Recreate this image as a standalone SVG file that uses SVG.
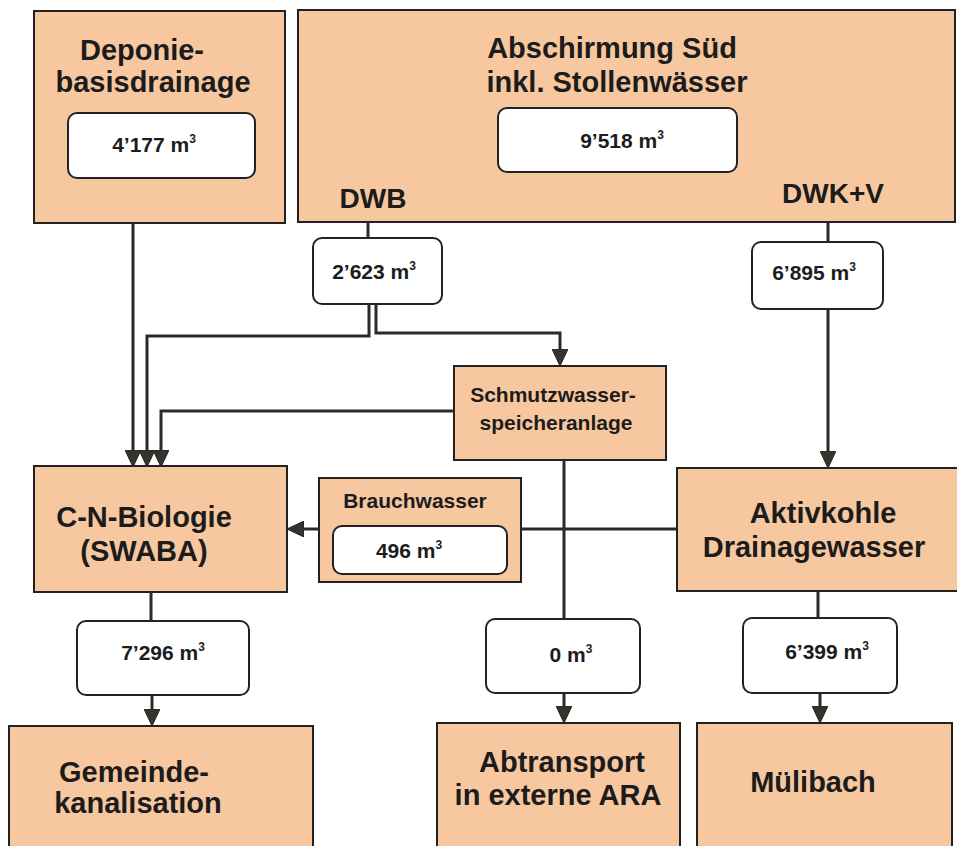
<svg xmlns="http://www.w3.org/2000/svg" width="957" height="846" viewBox="0 0 957 846">
<defs>
<style>
.box{fill:#F7C8A0;stroke:#222;stroke-width:2}
.val{fill:#fff;stroke:#222;stroke-width:2}
.t{font-family:"Liberation Sans",Arial,sans-serif;font-weight:bold;fill:#1c1c1c;text-anchor:middle}
.big{font-size:29px}
.mid{font-size:21px}
.lbl{font-size:28px}
.num{font-size:21px}
.sup{font-size:12px}
.c{fill:none;stroke:#2a2a2a;stroke-width:3}
.a{marker-end:url(#ah)}
</style>
<marker id="ah" viewBox="0 0 17 16" refX="0" refY="8" markerWidth="17" markerHeight="16" markerUnits="userSpaceOnUse" orient="auto">
<path d="M0,0 L17,8 L0,16 z" fill="#30362c" stroke="#222" stroke-width="1"/>
</marker>
</defs>
<rect width="957" height="846" fill="#fff"/>

<g id="deponie">
<rect class="box" x="34" y="11" width="251" height="212"/>
<text class="t big" x="142" y="60">Deponie-</text>
<text class="t big" x="153" y="92">basisdrainage</text>
<rect class="val" x="68" y="113" width="187" height="65" rx="9"/>
<text class="t num" x="154" y="152">4’177 m<tspan class="sup" dy="-9">3</tspan></text>
</g>

<g id="abschirmung">
<rect class="box" x="298" y="10" width="657" height="212"/>
<text class="t big" x="612" y="58">Abschirmung Süd</text>
<text class="t big" x="617" y="92">inkl. Stollenwässer</text>
<rect class="val" x="498" y="108" width="239" height="64" rx="9"/>
<text class="t num" x="622" y="148">9’518 m<tspan class="sup" dy="-9">3</tspan></text>
<text class="t lbl" x="373" y="208">DWB</text>
<text class="t lbl" x="833" y="203">DWK+V</text>
</g>

<g id="v2623">
<rect class="val" x="313" y="238" width="129" height="66" rx="9"/>
<text class="t num" x="374" y="279">2’623 m<tspan class="sup" dy="-9">3</tspan></text>
</g>

<g id="v6895">
<rect class="val" x="752" y="242" width="131" height="67" rx="9"/>
<text class="t num" x="814" y="280">6’895 m<tspan class="sup" dy="-9">3</tspan></text>
</g>

<g id="schmutzwasser">
<rect class="box" x="454" y="366" width="212" height="94"/>
<text class="t mid" x="553" y="402">Schmutzwasser-</text>
<text class="t mid" x="556" y="430">speicheranlage</text>
</g>

<g id="cnbiologie">
<rect class="box" x="34" y="466" width="253" height="126"/>
<text class="t big" x="144" y="527">C-N-Biologie</text>
<text class="t big" x="144" y="561">(SWABA)</text>
</g>

<g id="brauchwasser">
<rect class="box" x="319" y="478" width="202" height="104"/>
<text class="t mid" x="415" y="508">Brauchwasser</text>
<rect class="val" x="333" y="526" width="174" height="48" rx="9"/>
<text class="t num" x="409" y="558">496 m<tspan class="sup" dy="-9">3</tspan></text>
</g>

<g id="aktivkohle">
<rect class="box" x="677" y="468" width="290" height="123"/>
<text class="t big" x="823" y="523">Aktivkohle</text>
<text class="t big" x="814" y="557">Drainagewasser</text>
</g>

<g id="v7296">
<rect class="val" x="77" y="621" width="172" height="74" rx="9"/>
<text class="t num" x="163" y="660">7’296 m<tspan class="sup" dy="-9">3</tspan></text>
</g>

<g id="v0">
<rect class="val" x="486" y="619" width="154" height="74" rx="9"/>
<text class="t num" x="571" y="662">0 m<tspan class="sup" dy="-9">3</tspan></text>
</g>

<g id="v6399">
<rect class="val" x="743" y="618" width="154" height="75" rx="9"/>
<text class="t num" x="827" y="659">6’399 m<tspan class="sup" dy="-9">3</tspan></text>
</g>

<g id="gemeinde">
<rect class="box" x="9" y="726" width="304" height="140"/>
<text class="t big" x="134" y="782">Gemeinde-</text>
<text class="t big" x="138" y="813">kanalisation</text>
</g>

<g id="abtransport">
<rect class="box" x="437" y="723" width="243" height="140"/>
<text class="t big" x="562" y="772">Abtransport</text>
<text class="t big" x="558" y="805">in externe ARA</text>
</g>

<g id="muelibach">
<rect class="box" x="697" y="723" width="255" height="140"/>
<text class="t big" x="813" y="792">Mülibach</text>
</g>

<g id="connectors">
<path class="c a" d="M133,223 V450"/>
<path class="c" d="M368,222 V238"/>
<path class="c a" d="M369,304 V336 H147 V450"/>
<path class="c a" d="M376,304 V333 H560 V349"/>
<path class="c a" d="M454,411 H161 V450"/>
<path class="c" d="M828,222 V242"/>
<path class="c a" d="M828,309 V451"/>
<path class="c" d="M677,529 H521"/>
<path class="c a" d="M319,529 H304"/>
<path class="c" d="M564,460 V619"/>
<path class="c a" d="M564,693 V706"/>
<path class="c" d="M151,592 V621"/>
<path class="c a" d="M152,695 V709"/>
<path class="c" d="M818,591 V618"/>
<path class="c a" d="M820,693 V706"/>
</g>
</svg>
